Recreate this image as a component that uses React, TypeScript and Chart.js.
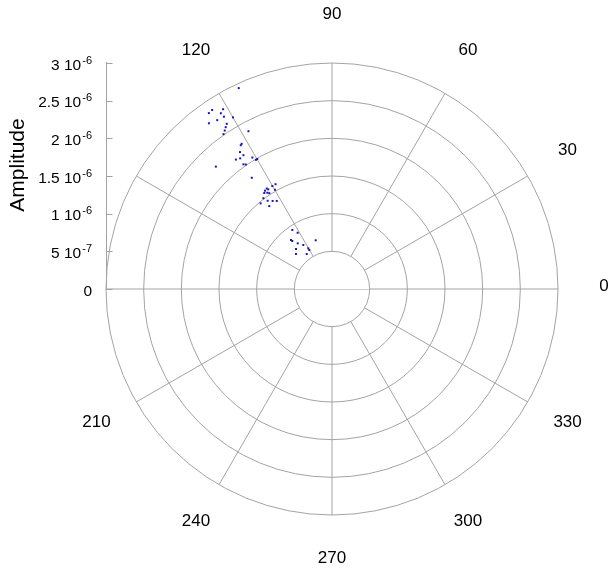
import React, { useEffect, useRef } from "react";
import { Chart, registerables } from "chart.js";

Chart.register(...registerables);

// ---- data (phase in degrees, amplitude) ----
const phaseDeg = [
  114.9, 125.0, 123.8, 121.2, 122.3, 122.1, 124.2, 126.6, 122.5, 123.3,
  124.1, 125.0, 120.0, 117.9, 122.4, 121.9, 123.9, 123.5, 125.1, 126.6,
  121.2, 120.5, 119.9, 125.4, 124.7, 133.5, 125.8, 123.0, 122.6, 124.3,
  123.9, 125.2, 123.2, 120.1, 118.3, 119.9, 127.1, 129.8, 126.1, 124.0,
  122.1, 127.1, 123.9, 121.4, 129.9, 129.6, 126.9, 123.1, 120.2, 120.2,
  132.0, 108.5, 135.8, 125.9,
];
const amplitude = [
  2.94e-6, 2.85e-6, 2.86e-6, 2.79e-6, 2.76e-6, 2.70e-6, 2.71e-6, 2.74e-6, 2.60e-6, 2.57e-6,
  2.54e-6, 2.51e-6, 2.63e-6, 2.37e-6, 2.26e-6, 2.27e-6, 2.19e-6, 2.13e-6, 2.12e-6, 2.14e-6,
  2.04e-6, 1.99e-6, 1.99e-6, 2.03e-6, 2.01e-6, 2.24e-6, 1.82e-6, 1.59e-6, 1.57e-6, 1.58e-6,
  1.54e-6, 1.56e-6, 1.52e-6, 1.58e-6, 1.58e-6, 1.52e-6, 1.51e-6, 1.48e-6, 1.45e-6, 1.41e-6,
  1.38e-6, 1.38e-6, 0.944e-6, 0.875e-6, 0.848e-6, 0.827e-6, 0.758e-6, 0.697e-6, 0.625e-6, 0.599e-6,
  0.714e-6, 0.682e-6, 0.667e-6, 0.573e-6,
];

// ---- axes ----
const amplitudeTicks = [0, 0.5e-6, 1e-6, 1.5e-6, 2e-6, 2.5e-6, 3e-6];
const amplitudeMax = 3e-6;
const spokeAngles = [0, 30, 60, 90, 120, 150, 180, 210, 240, 270, 300, 330];
const labeledAngles = [0, 30, 60, 90, 120, 210, 240, 270, 300, 330];
const radialTitle = "Amplitude";

const GRID = "#a3a3a3";
const FONT = '"Liberation Sans", Arial, sans-serif';

function splitSci(v: number): [string, string] {
  if (v === 0) return ["0", ""];
  let e = Math.floor(Math.log10(v) + 1e-9);
  let m = Math.round((v / Math.pow(10, e)) * 100) / 100;
  return [String(m) + " 10", String(e)];
}

const polarPlugin = {
  id: "polarGrid",
  beforeDatasetsDraw(chart: any) {
    const { ctx } = chart;
    const xs = chart.scales.x;
    const ys = chart.scales.y;
    const cx = xs.getPixelForValue(0);
    const cy = ys.getPixelForValue(0);
    const rpx = (v: number) => xs.getPixelForValue(v) - cx;
    const rIn = rpx(amplitudeTicks[1]);
    const rOut = rpx(amplitudeMax);
    ctx.save();
    ctx.lineWidth = 1;
    // line across the hole
    ctx.strokeStyle = "#cfcfcf";
    ctx.beginPath();
    ctx.moveTo(cx - rIn, cy + 0.5);
    ctx.lineTo(cx + rIn, cy + 0.5);
    ctx.stroke();
    ctx.strokeStyle = GRID;
    // circles
    for (const t of amplitudeTicks) {
      if (t === 0) continue;
      ctx.beginPath();
      ctx.arc(cx, cy, rpx(t), 0, Math.PI * 2);
      ctx.stroke();
    }
    // spokes
    for (const a of spokeAngles) {
      const th = (a * Math.PI) / 180;
      ctx.beginPath();
      ctx.moveTo(cx + rIn * Math.cos(th), cy - rIn * Math.sin(th));
      ctx.lineTo(cx + rOut * Math.cos(th), cy - rOut * Math.sin(th));
      ctx.stroke();
    }
    // radial axis line on the left with tick marks
    const ax = Math.round(cx - rOut) + 0.5;
    ctx.beginPath();
    ctx.moveTo(ax, ys.getPixelForValue(amplitudeMax) - 1);
    ctx.lineTo(ax, cy);
    ctx.stroke();
    for (const t of amplitudeTicks) {
      const y = Math.round(ys.getPixelForValue(t)) + 0.5;
      ctx.beginPath();
      ctx.moveTo(ax, y);
      ctx.lineTo(ax + 6, y);
      ctx.stroke();
    }
    ctx.restore();
  },
  afterDraw(chart: any) {
    const { ctx } = chart;
    const xs = chart.scales.x;
    const ys = chart.scales.y;
    const cx = xs.getPixelForValue(0);
    const cy = ys.getPixelForValue(0);
    const rOut = xs.getPixelForValue(amplitudeMax) - cx;
    ctx.save();
    ctx.fillStyle = "#000";
    // angle labels
    ctx.font = `17px ${FONT}`;
    ctx.textAlign = "center";
    ctx.textBaseline = "middle";
    const rl = rOut + 46;
    for (const a of labeledAngles) {
      const th = (a * Math.PI) / 180;
      ctx.fillText(String(a), cx + rl * Math.cos(th), cy - 2.75 - rl * Math.sin(th));
    }
    // radial tick labels
    const right = cx - rOut - 14;
    for (const t of amplitudeTicks) {
      const y = ys.getPixelForValue(t);
      const [base, sup] = splitSci(t);
      ctx.font = `11px ${FONT}`;
      const ws = sup ? ctx.measureText(sup).width : 0;
      ctx.font = `15.5px ${FONT}`;
      const wb = ctx.measureText(base).width;
      ctx.textAlign = "left";
      ctx.textBaseline = "alphabetic";
      const x0 = right - ws - wb - (sup ? 1 : 0);
      ctx.fillText(base, x0, y + 6.5);
      if (sup) {
        ctx.font = `11px ${FONT}`;
        ctx.fillText(sup, x0 + wb + 1, y + 0.5);
      }
    }
    // title
    ctx.font = `21px ${FONT}`;
    ctx.translate(18, 165);
    ctx.rotate(-Math.PI / 2);
    ctx.textAlign = "center";
    ctx.textBaseline = "middle";
    ctx.fillText(radialTitle, 0, 0);
    ctx.restore();
  },
};

export default function App() {
  const ref = useRef<HTMLCanvasElement | null>(null);
  useEffect(() => {
    if (!ref.current) return;
    const pts = phaseDeg.map((a, i) => {
      const th = (a * Math.PI) / 180;
      return { x: amplitude[i] * Math.cos(th), y: amplitude[i] * Math.sin(th) };
    });
    const chart = new Chart(ref.current, {
      type: "scatter",
      data: {
        datasets: [
          {
            data: pts,
            backgroundColor: "#1414b4",
            borderColor: "#1414b4",
            borderWidth: 0,
            pointRadius: 1.4,
            pointStyle: "rect",
          },
        ],
      },
      options: {
        animation: false,
        responsive: false,
        layout: { padding: { left: 106, right: 57, top: 63, bottom: 59 } },
        plugins: { legend: { display: false }, tooltip: { enabled: false } },
        scales: {
          x: { type: "linear", min: -amplitudeMax, max: amplitudeMax, display: false },
          y: { type: "linear", min: -amplitudeMax, max: amplitudeMax, display: false },
        },
      },
      plugins: [polarPlugin],
    });
    return () => chart.destroy();
  }, []);
  return (
    <div style={{ position: "fixed", left: 0, top: 0, width: 615, height: 574, background: "#fff" }}>
      <canvas ref={ref} width={615} height={574} style={{ width: 615, height: 574 }} />
    </div>
  );
}
